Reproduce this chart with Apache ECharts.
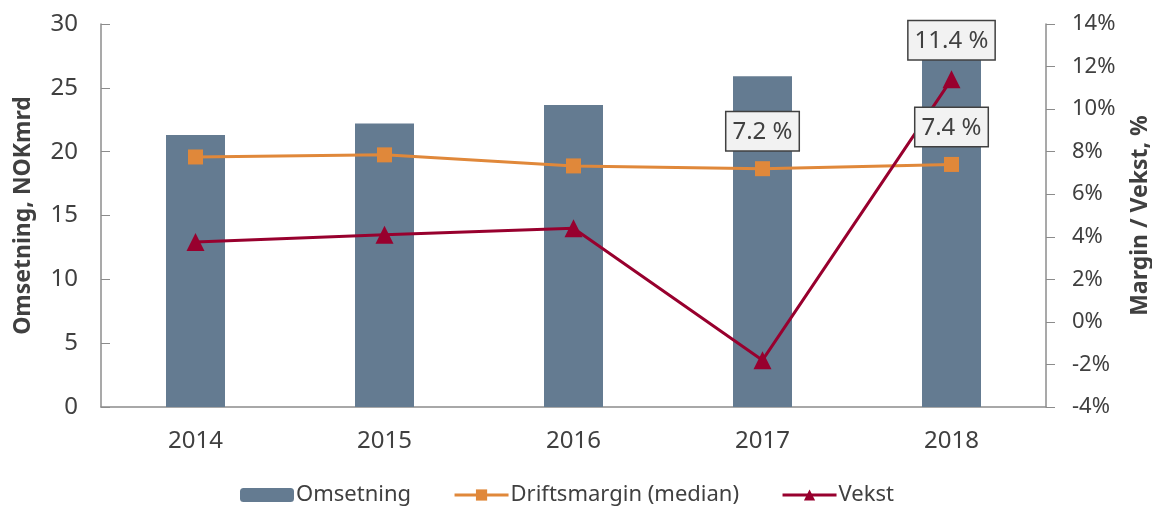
<!DOCTYPE html>
<html style='height: 100%'>
<head>
    <meta charset='utf-8'>
</head>
<body style='height: 100%; margin: 0; background: #fff'>
    <div id='container' style='width: 1152px; height: 509px'></div>
    <script type='text/javascript' src='https://cdn.jsdelivr.net/npm/echarts@6/dist/echarts.min.js'></script>
    <script type="text/javascript">

var years = ['2014', '2015', '2016', '2017', '2018'];
var omsetning = [21.3, 22.2, 23.65, 25.9, 28.4];
var driftsmargin = [7.75, 7.85, 7.33, 7.2, 7.4];
var vekst = [3.76, 4.1, 4.4, -1.8, 11.4];
// which points get a value box
var marginLabels = [3, 4];
var vekstLabels = [4];

var font = 'Noto Sans';
var txt = '#404040';

var boxLabel = {
    show: true,
    position: 'top',
    distance: 11,
    formatter: function (p) { return p.value.toFixed(1) + ' %'; },
    fontFamily: font,
    fontSize: 24,
    color: txt,
    backgroundColor: '#f2f2f2',
    borderColor: '#404040',
    borderWidth: 1.5,
    padding: [8, 6, 6, 6]
};

function withLabels(values, idx) {
    return values.map(function (v, i) {
        if (idx.indexOf(i) >= 0) return { value: v, label: boxLabel };
        return v;
    });
}

var myChart = echarts.init(document.getElementById('container'));

var option = {
    animation: false,
    textStyle: { fontFamily: font },
    grid: { left: 101, right: 106, top: 24, bottom: 102, outerBoundsMode: 'none' },
    legend: {
        bottom: -2,
        left: 235,
        itemGap: 42,
        itemWidth: 54,
        itemHeight: 14,
        lineStyle: { width: 3 },
        textStyle: { fontFamily: font, fontSize: 22, color: txt, padding: [0, 0, 0, -3] },
        data: ['Omsetning', 'Driftsmargin (median)', 'Vekst']
    },
    xAxis: {
        type: 'category',
        data: years,
        axisLine: { lineStyle: { color: '#8c8c8c', width: 1.5 } },
        axisTick: { show: false },
        axisLabel: { fontSize: 24, color: txt, margin: 22 }
    },
    yAxis: [{
        type: 'value',
        min: 0, max: 30, interval: 5,
        name: 'Omsetning, NOKmrd',
        nameLocation: 'middle',
        nameGap: 66,
        nameTextStyle: { fontSize: 23, fontWeight: 'bold', color: txt },
        axisLine: { show: true, lineStyle: { color: '#8c8c8c', width: 1.5 } },
        axisTick: { show: true, inside: true, length: 9, lineStyle: { color: '#8c8c8c' } },
        axisLabel: { fontSize: 24, color: txt, margin: 23 },
        splitLine: { show: false }
    }, {
        type: 'value',
        min: -4, max: 14, interval: 2,
        name: 'Margin / Vekst, %',
        nameLocation: 'middle',
        nameGap: 83,
        nameTextStyle: { fontSize: 23, fontWeight: 'bold', color: txt },
        axisLine: { show: true, lineStyle: { color: '#8c8c8c', width: 1.5 } },
        axisTick: { show: true, length: 9, lineStyle: { color: '#8c8c8c' } },
        axisLabel: { fontSize: 22, color: txt, margin: 26, formatter: '{value}%' },
        splitLine: { show: false }
    }],
    series: [{
        name: 'Omsetning',
        type: 'bar',
        data: omsetning,
        barWidth: 59,
        itemStyle: { color: '#647b91' }
    }, {
        name: 'Driftsmargin (median)',
        type: 'line',
        yAxisIndex: 1,
        data: withLabels(driftsmargin, marginLabels),
        symbol: 'rect',
        symbolSize: 15,
        lineStyle: { color: '#e0883a', width: 3 },
        itemStyle: { color: '#e0883a' }
    }, {
        name: 'Vekst',
        type: 'line',
        yAxisIndex: 1,
        data: withLabels(vekst, vekstLabels),
        symbol: 'triangle',
        symbolSize: 18,
        lineStyle: { color: '#98002e', width: 3 },
        itemStyle: { color: '#98002e' },
        z: 3
    }]
};

myChart.setOption(option);
    </script>
</body>
</html>
